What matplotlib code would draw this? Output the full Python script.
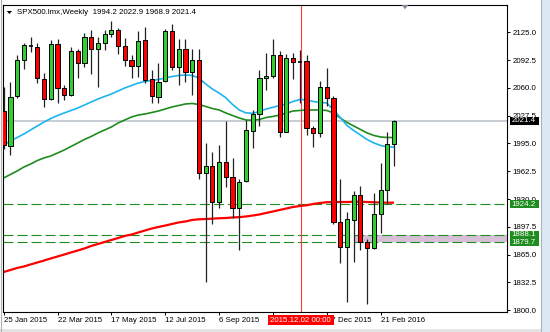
import matplotlib
matplotlib.use('Agg')
import matplotlib.pyplot as plt
from matplotlib.patches import Rectangle, Polygon
from matplotlib.lines import Line2D

plt.rcParams['font.family'] = ['Liberation Sans', 'DejaVu Sans']
plt.rcParams['lines.scale_dashes'] = False

# ---------------- data ----------------
title_text = "SPX500.lmx,Weekly  1994.2 2022.9 1968.9 2021.4"

opens = [2033, 1992, 2050, 2093, 2110, 2108, 2070, 2047, 2111, 2060,
         2052, 2103, 2089, 2119, 2106, 2112, 2123, 2128, 2109, 2093,
         2086, 2116, 2070, 2049, 2068, 2126, 2084, 2106, 2078, 2093,
         1961, 1969, 1927, 1973, 1956, 1919, 1951, 2010, 2030, 2071,
         2074, 2098, 2009, 2095, 2090, 2091, 2013, 2007, 2061, 2048,
         1903, 1874, 1906, 1935, 1880, 1873, 1913, 1941, 1994.2]
highs = [2061, 2067, 2099, 2112, 2119, 2112, 2077, 2116, 2117, 2063,
         2108, 2106, 2124, 2128, 2120, 2128, 2138, 2130, 2118, 2098,
         2126, 2131, 2081, 2089, 2129, 2135, 2117, 2117, 2105, 2106,
         1995, 1985, 1993, 2021, 1978, 1953, 2022, 2034, 2081, 2101,
         2117, 2103, 2100, 2101, 2104, 2098, 2015, 2068, 2083, 2050,
         1953, 1915, 1940, 1945, 1883, 1937, 1972, 2009, 2022.9]
lows = [1988, 1981, 2048, 2082, 2102, 2066, 2038, 2046, 2042, 2046,
        2050, 2071, 2085, 2076, 2061, 2104, 2120, 2100, 2086, 2072,
        2073, 2066, 2042, 2042, 2067, 2081, 2063, 2067, 2052, 1953,
        1833, 1901, 1920, 1944, 1908, 1870, 1950, 1990, 2015, 2057,
        2071, 2003, 2008, 2070, 2042, 2005, 1991, 2003, 2039, 1901,
        1855, 1810, 1857, 1870, 1807, 1872, 1890, 1924, 1968.9]
closes = [1993, 2049, 2093, 2110, 2109, 2071, 2047, 2111, 2060, 2052,
          2103, 2089, 2119, 2106, 2113, 2123, 2128, 2109, 2093, 2086,
          2115, 2069, 2050, 2067, 2126, 2084, 2106, 2078, 2093, 1961,
          1969, 1927, 1973, 1956, 1919, 1950, 2011, 2030, 2071, 2074,
          2098, 2009, 2095, 2090, 2091, 2013, 2007, 2061, 2048, 1903,
          1874, 1907, 1935, 1880, 1873, 1912, 1941, 1994.2, 2021.4]

ma_fast = [1993.3, 1997.9, 2002.0, 2006.1, 2010.8, 2015.5, 2020.1, 2024.2, 2027.7, 2030.7,
           2033.6, 2036.5, 2040.0, 2043.5, 2047.0, 2050.0, 2052.9, 2056.4, 2059.9, 2062.8,
           2065.7, 2067.5, 2068.7, 2069.8, 2071.6, 2073.3, 2074.5, 2075.1, 2074.5, 2071.6,
           2064.6, 2058.7, 2054.0, 2048.5, 2040.6, 2034.2, 2030.7, 2030.3, 2032.4, 2035.3,
           2037.3, 2039.4, 2041.2, 2044.1, 2046.4, 2045.9, 2044.1, 2042.9, 2042.4, 2034.2,
           2025.4, 2016.0, 2010.2, 2004.9, 1999.7, 1995.6, 1992.7, 1990.9, 1990.9]
ma_mid = [1954.7, 1958.8, 1962.9, 1967.5, 1971.0, 1975.1, 1978.1, 1980.4, 1983.9, 1987.4,
          1991.5, 1995.6, 1999.7, 2003.2, 2007.3, 2010.8, 2014.3, 2019.0, 2022.5, 2026.0,
          2028.3, 2029.5, 2031.2, 2033.0, 2035.3, 2037.7, 2039.4, 2041.2, 2041.8, 2040.6,
          2038.3, 2035.9, 2034.2, 2030.7, 2027.7, 2024.8, 2022.5, 2022.1, 2023.1, 2025.4,
          2026.6, 2028.3, 2030.7, 2033.0, 2033.6, 2034.2, 2034.2, 2034.2, 2033.6, 2030.7,
          2024.8, 2019.6, 2015.5, 2011.4, 2007.3, 2004.4, 2002.6, 2002.0, 2002.0]
ma_slow = [1844.8, 1847.1, 1849.5, 1851.2, 1853.6, 1855.9, 1858.2, 1860.6, 1862.9, 1865.2,
           1867.6, 1869.9, 1872.3, 1875.2, 1877.5, 1879.9, 1882.2, 1884.5, 1886.9, 1888.6,
           1891.0, 1893.3, 1895.6, 1897.4, 1899.1, 1900.9, 1902.7, 1903.8, 1905.6, 1906.4,
           1906.7, 1907.1, 1907.6, 1907.9, 1908.5, 1908.9, 1909.7, 1910.8, 1912.0, 1913.8,
           1915.5, 1917.3, 1919.0, 1920.8, 1921.9, 1922.8, 1924.3, 1925.5, 1926.3, 1926.6,
           1926.6, 1926.6, 1926.9, 1926.9, 1926.6, 1926.3, 1926.0, 1925.8, 1925.8]

x_tick_labels = ["25 Jan 2015", "22 Mar 2015", "17 May 2015", "12 Jul 2015",
                 "6 Sep 2015", "1 Nov 2015", "27 Dec 2015", "21 Feb 2016"]
y_tick_values = [1800.0, 1832.5, 1865.0, 1897.5, 1930.0, 1962.5,
                 1995.0, 2027.5, 2060.0, 2092.5, 2125.0]
level_values = [1924.2, 1888.1, 1879.7]
last_price = 2021.4
zone_low, zone_high = 1879.7, 1888.1
zone_start_week = 52.2
cursor_week = 44.1
cursor_label = "2015.12.02 00:00"

# ---------------- figure ----------------
W, H = 550, 332
fig = plt.figure(figsize=(W / 100, H / 100), dpi=100)
fig.patch.set_facecolor('white')

ax_left, ax_right, ax_top, ax_bottom = 3, 507, 5, 312
ax = fig.add_axes([ax_left / W, 1 - ax_bottom / H,
                   (ax_right - ax_left) / W, (ax_bottom - ax_top) / H])
ax.set_facecolor('white')
X_MIN, X_MAX = -0.104, 74.78
ax.set_xlim(X_MIN, X_MAX)
ax.set_ylim(1798.0, 2156.9)

FS = 5.7
n = len(opens)
xs = list(range(n))

# zone + reference lines
ax.add_patch(Rectangle((zone_start_week, zone_low), X_MAX - zone_start_week,
                       zone_high - zone_low, facecolor='#D8BFD8',
                       edgecolor='none', zorder=1.2))
ax.axhline(last_price, color='#B8C0C8', lw=1.1, zorder=1.0)
for lv in level_values:
    ax.axhline(lv, color='#1E8C1E', lw=0.8, dashes=(7.2, 2.9), zorder=1.5)
ax.axvline(cursor_week, color='#FF3B3B', lw=0.8, zorder=1.6)

# moving averages (drawn beneath the candles)
ax.plot(xs, ma_slow, color='#FF0000', lw=1.6, zorder=2.0, solid_capstyle='butt')
ax.plot(xs, ma_mid, color='#1E8C1E', lw=1.2, zorder=2.1)
ax.plot(xs, ma_fast, color='#1EB4F0', lw=1.2, zorder=2.2)

# candles
for i in xs:
    o, h, l, c = opens[i], highs[i], lows[i], closes[i]
    ax.vlines(i, l, h, color='#222222', lw=0.9, zorder=3)
    up = c >= o
    lo, hi = min(o, c), max(o, c)
    if hi - lo < 1.2:
        ax.hlines((o + c) / 2, i - 0.31, i + 0.31, color='black', lw=1.2, zorder=4)
    else:
        ax.add_patch(Rectangle((i - 0.31, lo), 0.62, hi - lo,
                               facecolor='#32CD32' if up else '#FF0000',
                               edgecolor='black', lw=0.7, zorder=4))

# axes styling
for sp in ax.spines.values():
    sp.set_color('black')
    sp.set_linewidth(0.8)
tick_pos = list(range(0, n, 8))
ax.set_xticks(tick_pos)
ax.set_xticklabels(x_tick_labels, fontsize=FS)
for pos, lbl in zip(tick_pos, ax.get_xticklabels()):
    lbl.set_ha('left')
    # the label sitting under the cursor's time box is hidden by it
    if abs(pos - cursor_week) < 3:
        lbl.set_visible(False)
ax.tick_params(axis='x', direction='out', length=2.2, width=0.7, pad=1.6,
               colors='black')
ax.yaxis.tick_right()
ax.set_yticks(y_tick_values)
ax.set_yticklabels([f"{v:.1f}" for v in y_tick_values], fontsize=FS)
ax.tick_params(axis='y', direction='out', length=2.2, width=0.7, pad=1.8,
               colors='black')

fig.canvas.draw()


def ypix_from_top(v):
    return H - ax.transData.transform((0, v))[1]


def xpix(xv):
    return ax.transData.transform((xv, 0))[0]


def box(x0, y_top, w, h, fc, text, tx, ha='left'):
    fig.add_artist(Rectangle((x0 / W, 1 - (y_top + h) / H), w / W, h / H,
                             transform=fig.transFigure, facecolor=fc,
                             edgecolor='none', zorder=10))
    fig.text(tx / W, 1 - (y_top + h / 2) / H, text, color='white',
             fontsize=FS, ha=ha, va='center', zorder=11)


# right price labels
yp = ypix_from_top(last_price)
box(509.5, yp - 4.3, 29, 8.6, 'black', f"{last_price:.1f}", 511.5)
for lv in level_values:
    yp = ypix_from_top(lv)
    box(509.5, yp - 4.2, 29, 8.4, '#1E8C1E', f"{lv:.1f}", 511.5)

# cursor label on x-axis
cx = xpix(cursor_week)
box(cx - 33, 315, 66, 10.3, '#FF0000', cursor_label, cx, ha='center')

# title
fig.text(17 / W, 1 - 12.8 / H, title_text, fontsize=FS, color='black',
         ha='left', va='center')
fig.add_artist(Polygon([(6.8 / W, 1 - 11 / H), (12 / W, 1 - 11 / H),
                        (9.4 / W, 1 - 14 / H)], closed=True,
                       transform=fig.transFigure, facecolor='black',
                       edgecolor='none'))
# chart shift marker
fig.add_artist(Polygon([(401.7 / W, 1 - 5 / H), (408.3 / W, 1 - 5 / H),
                        (405 / W, 1 - 9.3 / H)], closed=True,
                       transform=fig.transFigure, facecolor='#7F8A96',
                       edgecolor='none'))

# window borders
fig.add_artist(Rectangle((540.5 / W, 0), 9.5 / W, 1, transform=fig.transFigure,
                         facecolor='#DCE8F4', edgecolor='none', zorder=0))
fig.add_artist(Line2D([540.5 / W, 540.5 / W], [0, 1], transform=fig.transFigure,
                      color='#A8B4C0', lw=0.8))
fig.add_artist(Rectangle((0, 0), 540.5 / W, 3.5 / H, transform=fig.transFigure,
                         facecolor='#E4E4E4', edgecolor='none', zorder=0))
fig.add_artist(Line2D([1 / W, 1 / W], [0, 1], transform=fig.transFigure,
                      color='#B0B0B0', lw=0.8))

fig.savefig('out.png', dpi=100, facecolor=fig.get_facecolor())
